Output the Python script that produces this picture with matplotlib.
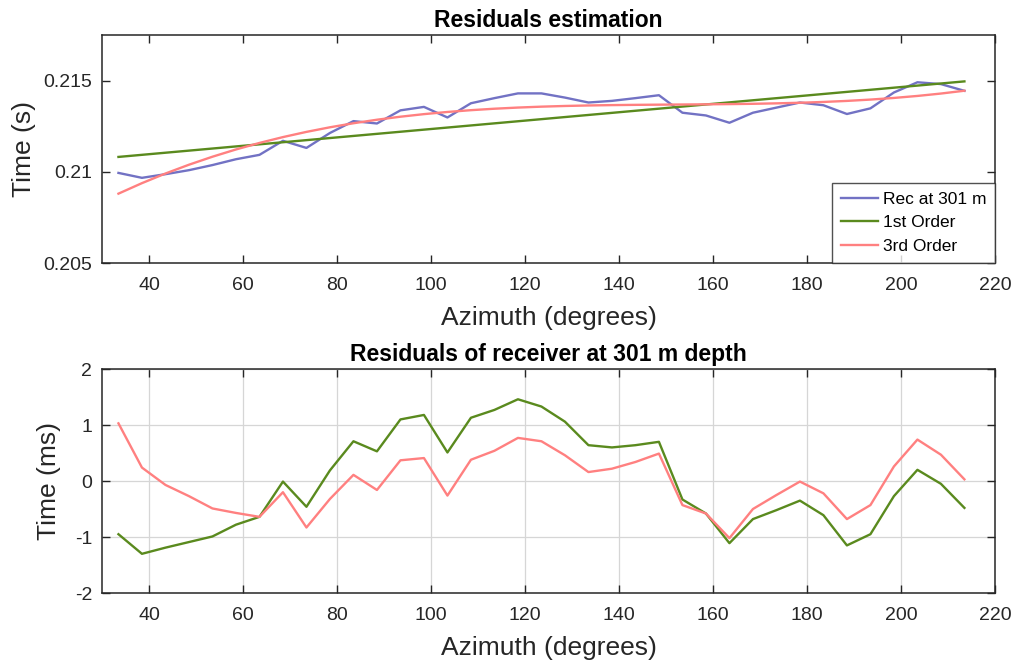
import numpy as np
import matplotlib
matplotlib.use("Agg")
import matplotlib.pyplot as plt

plt.rcParams['font.family'] = ['Liberation Sans', 'DejaVu Sans']
plt.rcParams['axes.unicode_minus'] = False

# Azimuth samples (degrees)
azimuth = [33.5, 38.5, 43.5, 48.5, 53.5, 58.5, 63.5, 68.5, 73.5, 78.5,
           83.5, 88.5, 93.5, 98.5, 103.5, 108.5, 113.5, 118.5, 123.5, 128.5,
           133.5, 138.5, 143.5, 148.5, 153.5, 158.5, 163.5, 168.5, 173.5, 178.5,
           183.5, 188.5, 193.5, 198.5, 203.5, 208.5, 213.5]

# Recorded travel time at 301 m (s)
rec_time = [0.20994, 0.20967, 0.20987, 0.21009, 0.21037, 0.21069, 0.21093, 0.21170, 0.21131, 0.21213,
            0.21278, 0.21265, 0.21337, 0.21356, 0.21298, 0.21376, 0.21404, 0.21430, 0.21430, 0.21407,
            0.21380, 0.21389, 0.21404, 0.21420, 0.21324, 0.21309, 0.21269, 0.21324, 0.21352, 0.21380,
            0.21365, 0.21317, 0.21348, 0.21435, 0.21491, 0.21481, 0.21444]

# Residuals (ms)
resid_1st = [-0.95, -1.30, -1.19, -1.09, -0.99, -0.78, -0.64, -0.01, -0.46, 0.19,
             0.71, 0.53, 1.10, 1.18, 0.51, 1.13, 1.27, 1.46, 1.33, 1.06,
             0.64, 0.60, 0.64, 0.70, -0.33, -0.58, -1.11, -0.68, -0.52, -0.35,
             -0.61, -1.15, -0.95, -0.27, 0.20, -0.05, -0.48]
resid_3rd = [1.03, 0.24, -0.07, -0.27, -0.49, -0.57, -0.64, -0.20, -0.83, -0.32,
             0.11, -0.16, 0.37, 0.41, -0.26, 0.38, 0.54, 0.77, 0.71, 0.46,
             0.16, 0.22, 0.34, 0.49, -0.43, -0.58, -1.02, -0.50, -0.25, -0.01,
             -0.22, -0.68, -0.43, 0.26, 0.74, 0.47, 0.03]

legend_labels = ['Rec at 301 m', '1st Order', '3rd Order']

az = np.array(azimuth)
rec = np.array(rec_time)
fit1 = np.polyval(np.polyfit(az, rec, 1), az)
fit3 = np.polyval(np.polyfit(az, rec, 3), az)

c_blue = '#7272c4'
c_green = '#5a8a1e'
c_pink = '#ff8080'
dark = '#262626'

fig = plt.figure(figsize=(10.16, 6.66), dpi=100)
ax1 = fig.add_axes([0.1004, 0.6051, 0.8789, 0.3423])
ax2 = fig.add_axes([0.1004, 0.1096, 0.8789, 0.3363])

lw = 1.7
ax1.plot(az, rec, color=c_blue, lw=lw, label=legend_labels[0])
ax1.plot(az, fit1, color=c_green, lw=lw, label=legend_labels[1])
ax1.plot(az, fit3, color=c_pink, lw=lw, label=legend_labels[2])
ax1.set_xlim(30, 220)
ax1.set_ylim(0.205, 0.2175)
ax1.set_yticks([0.205, 0.21, 0.215])
ax1.set_yticklabels(['0.205', '0.21', '0.215'])
ax1.set_xticks(range(40, 221, 20))
ax1.set_title('Residuals estimation', fontsize=16.5, fontweight='bold', pad=6, color='black')
ax1.set_xlabel('Azimuth (degrees)', fontsize=19, color=dark, labelpad=9)
ax1.set_ylabel('Time (s)', fontsize=19, color=dark, labelpad=5)
leg = ax1.legend(loc='lower right', fontsize=12.5, frameon=True, fancybox=False,
                 borderaxespad=0, handlelength=2.1, handletextpad=0.3,
                 labelspacing=0.5, borderpad=0.5)
leg.get_frame().set_edgecolor(dark)
leg.get_frame().set_linewidth(1.0)
for t in leg.get_texts():
    t.set_color('black')

ax2.plot(az, resid_1st, color=c_green, lw=lw)
ax2.plot(az, resid_3rd, color=c_pink, lw=lw)
ax2.set_xlim(30, 220)
ax2.set_ylim(-2, 2)
ax2.set_yticks([-2, -1, 0, 1, 2])
ax2.set_xticks(range(40, 221, 20))
ax2.grid(True, color='#d6d6d6', lw=0.9)
ax2.set_axisbelow(True)
ax2.set_title('Residuals of receiver at 301 m depth', fontsize=16.5, fontweight='bold', pad=6, color='black')
ax2.set_xlabel('Azimuth (degrees)', fontsize=19, color=dark, labelpad=9)
ax2.set_ylabel('Time (ms)', fontsize=19, color=dark, labelpad=10)

for ax in (ax1, ax2):
    for s in ax.spines.values():
        s.set_color(dark)
        s.set_linewidth(1.1)
    ax.tick_params(direction='in', length=6, width=1.0, colors=dark,
                   labelsize=14, top=True, right=True)
    ax.tick_params(axis='x', pad=10)
    ax.tick_params(axis='y', pad=7)

fig.savefig('out.png', dpi=100)
